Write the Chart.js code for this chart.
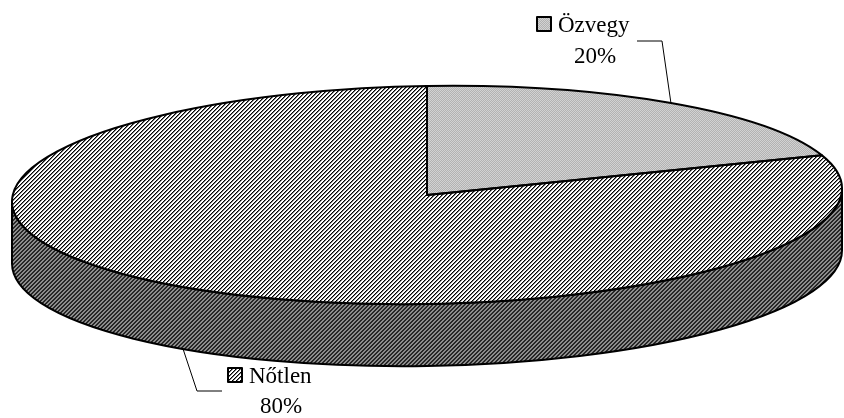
<!DOCTYPE html>
<html><head><meta charset="utf-8">
<script src="https://cdn.jsdelivr.net/npm/chart.js@4.4.1/dist/chart.umd.min.js"></script>
<style>html,body{margin:0;padding:0;background:#fff}canvas{display:block}</style>
</head><body>
<canvas id="c" width="844" height="418"></canvas>
<script>
// ---- data ----
const categories = ['Özvegy', 'Nőtlen'];
const values = [20, 80];
const percentLabels = ['20%', '80%'];

// ---- layout / style ----
const CX = 427, CY = 195, RX = 415, RY = 109, DEPTH = 62, SHEAR = -6.5 / 415;
const FONT = '23px "Liberation Serif", "Times New Roman", serif';
const labelLayout = [
  { box: [537, 17, 14], name: [558, 32], pct: [595, 63], leader: [[637, 41], [662, 41]], onSide: false },
  { box: [228, 368, 14], name: [249, 383], pct: [281, 413], leader: [[222, 391], [197, 391]], onSide: true }
];

function makePattern(size, fn) {
  const c = document.createElement('canvas');
  c.width = size; c.height = size;
  const g = c.getContext('2d');
  for (let y = 0; y < size; y++) for (let x = 0; x < size; x++) {
    g.fillStyle = fn(x, y); g.fillRect(x, y, 1, 1);
  }
  return document.getElementById('c').getContext('2d').createPattern(c, 'repeat');
}
const topFns = [
  (x, y) => ((x + y) & 1) ? '#b2b2b2' : '#d2d2d2',
  (x, y) => { const k = (x + y) & 3; return k === 0 ? '#000000' : (k === 1 ? '#7a7a7a' : '#ffffff'); }
];
const sideFns = [
  (x, y) => ((x + y) & 1) ? '#707070' : '#8a8a8a',
  (x, y) => { const k = (x + y) & 3; return k < 2 ? '#262626' : '#8c8c8c'; }
];
const topPatterns = topFns.map(f => makePattern(4, f));
const sidePatterns = sideFns.map(f => makePattern(4, f));
const boxPatterns = topFns.map(f => makePattern(4, f));

// maps unit circle to the projected ellipse
function applyM(ctx, dy) {
  ctx.translate(CX, CY + (dy || 0));
  ctx.transform(RX, SHEAR * RX, 0, RY, 0, 0);
}
function pt(a, dy) {
  return [CX + RX * Math.cos(a), CY + (dy || 0) + SHEAR * RX * Math.cos(a) + RY * Math.sin(a)];
}
function rimPath(ctx, a0, a1, dy, ccw) {
  ctx.save(); applyM(ctx, dy); ctx.arc(0, 0, 1, a0, a1, !!ccw); ctx.restore();
}

const pie3d = {
  id: 'pie3d',
  beforeDatasetsDraw(chart) {
    const ctx = chart.ctx;
    const arcs = chart.getDatasetMeta(0).data;
    const t0 = 0, t1 = Math.PI;
    ctx.save();
    ctx.lineWidth = 2; ctx.strokeStyle = '#000'; ctx.lineJoin = 'round';
    arcs.forEach((el, i) => {
      for (let k = -1; k <= 1; k++) {
        const s = el.startAngle + k * 2 * Math.PI, e = el.endAngle + k * 2 * Math.PI;
        const a0 = Math.max(s, t0), a1 = Math.min(e, t1);
        if (a1 > a0) {
          ctx.beginPath();
          rimPath(ctx, a0, a1, 0, false);
          rimPath(ctx, a1, a0, DEPTH, true);
          ctx.closePath();
          ctx.fillStyle = sidePatterns[i % sidePatterns.length];
          ctx.fill();
          ctx.stroke();
        }
      }
    });
    ctx.restore();
    const el = arcs[0];
    const R = el.outerRadius;
    ctx.save();
    ctx.translate(CX, CY);
    ctx.transform(RX / R, SHEAR * RX / R, 0, RY / R, 0, 0);
    ctx.translate(-el.x, -el.y);
    const inv = ctx.getTransform().inverse();
    topPatterns.forEach(p => p.setTransform(inv));
  },
  afterDatasetsDraw(chart) {
    const ctx = chart.ctx;
    ctx.restore();
    const arcs = chart.getDatasetMeta(0).data;
    ctx.save();
    ctx.lineWidth = 2; ctx.strokeStyle = '#000'; ctx.lineJoin = 'round';
    arcs.forEach(el => {
      ctx.beginPath();
      ctx.moveTo(CX, CY);
      const p = pt(el.startAngle);
      ctx.lineTo(p[0], p[1]);
      rimPath(ctx, el.startAngle, el.endAngle, 0, false);
      ctx.closePath();
      ctx.stroke();
    });
    // labels
    ctx.font = FONT;
    ctx.textBaseline = 'alphabetic';
    ctx.fillStyle = '#000';
    arcs.forEach((el, i) => {
      const L = labelLayout[i];
      const mid = (el.startAngle + el.endAngle) / 2;
      const anchor = pt(mid, L.onSide ? DEPTH : 0);
      ctx.lineWidth = 1;
      ctx.beginPath();
      ctx.moveTo(L.leader[0][0], L.leader[0][1]);
      ctx.lineTo(L.leader[1][0], L.leader[1][1]);
      ctx.lineTo(anchor[0], anchor[1]);
      ctx.stroke();
      const [bx, by, bs] = L.box;
      ctx.fillStyle = boxPatterns[i];
      ctx.fillRect(bx, by, bs, bs);
      ctx.lineWidth = 2;
      ctx.strokeRect(bx, by, bs, bs);
      ctx.fillStyle = '#000';
      ctx.textAlign = 'left';
      ctx.fillText(categories[i], L.name[0], L.name[1]);
      ctx.textAlign = 'center';
      ctx.fillText(percentLabels[i], L.pct[0], L.pct[1]);
    });
    ctx.restore();
  }
};

new Chart(document.getElementById('c'), {
  type: 'pie',
  data: {
    labels: categories,
    datasets: [{ data: values, backgroundColor: topPatterns, borderWidth: 0, clip: false }]
  },
  options: {
    responsive: false,
    animation: false,
    events: [],
    layout: { padding: 0 },
    plugins: { legend: { display: false }, tooltip: { enabled: false } }
  },
  plugins: [pie3d]
});
</script>
</body></html>
